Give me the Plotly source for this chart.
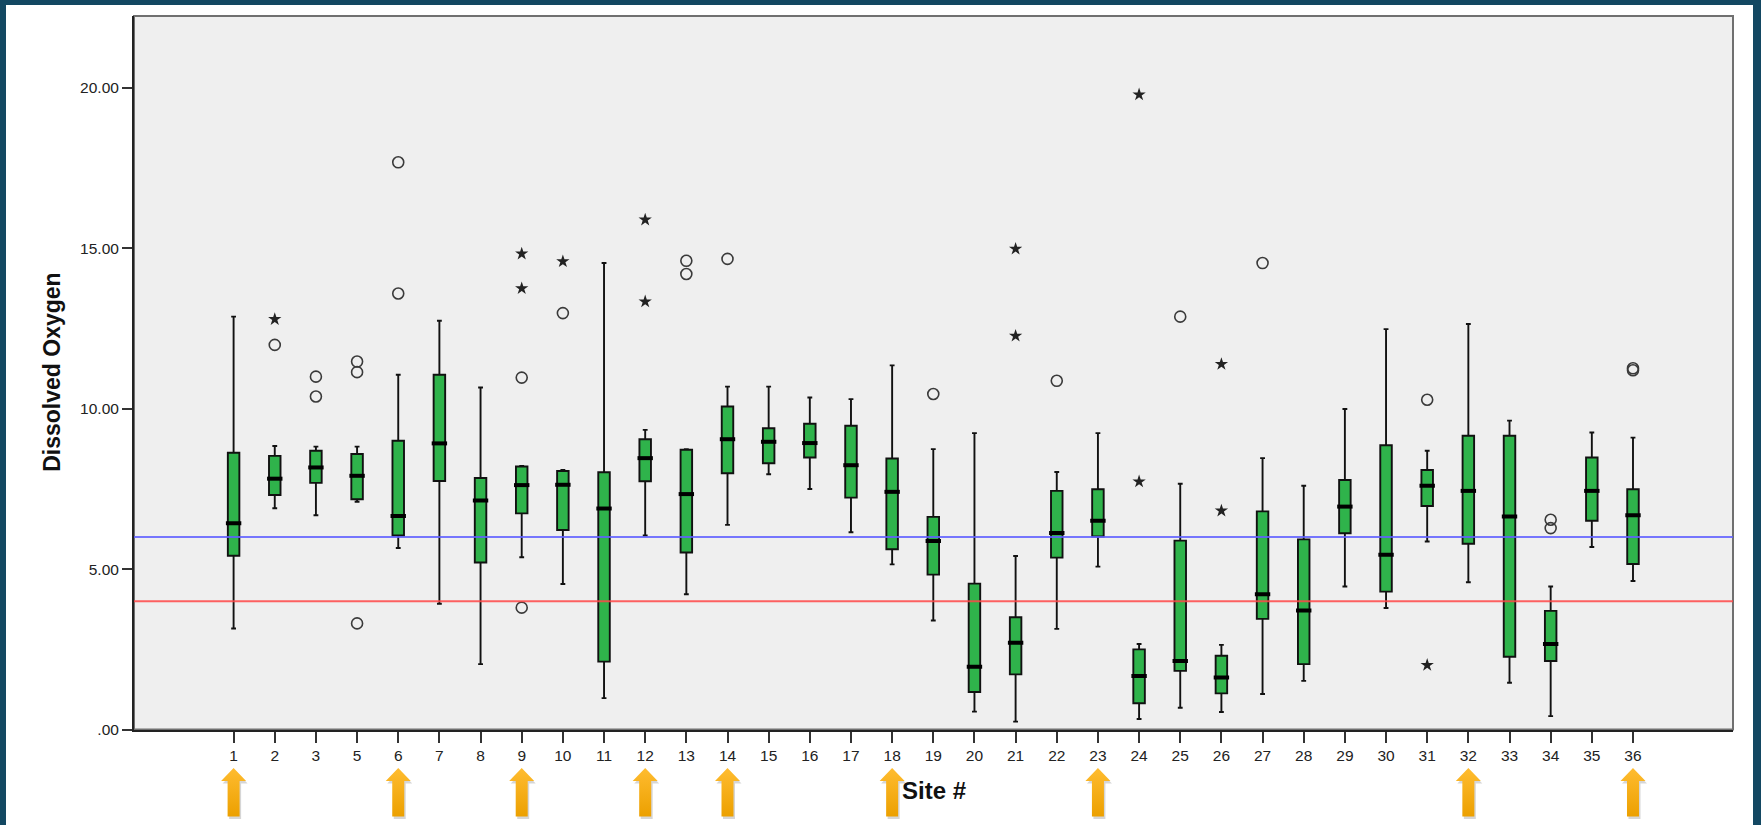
import plotly.graph_objects as go

# ---- data: dissolved oxygen summary per monitoring site ----
sites = [1, 2, 3, 5, 6, 7, 8, 9, 10, 11, 12, 13, 14, 15, 16, 17, 18, 19, 20,
         21, 22, 23, 24, 25, 26, 27, 28, 29, 30, 31, 32, 33, 34, 35, 36]

lower_whisker = [3.15, 6.90, 6.68, 7.10, 5.66, 3.92, 2.04, 5.37, 4.54, 0.98, 6.05, 4.22,
                 6.38, 7.96, 7.50, 6.15, 5.15, 3.40, 0.56, 0.25, 3.14, 5.08, 0.33, 0.68,
                 0.55, 1.11, 1.52, 4.46, 3.79, 5.86, 4.59, 1.46, 0.42, 5.69, 4.63]
q1 = [5.42, 7.31, 7.69, 7.18, 6.05, 7.75, 5.21, 6.74, 6.22, 2.12, 7.74, 5.52,
      7.99, 8.30, 8.48, 7.23, 5.62, 4.83, 1.17, 1.72, 5.36, 6.02, 0.82, 1.83,
      1.13, 3.45, 2.04, 6.12, 4.30, 6.97, 5.79, 2.27, 2.14, 6.51, 5.16]
median = [6.43, 7.82, 8.17, 7.91, 6.66, 8.92, 7.14, 7.62, 7.63, 6.89, 8.46, 7.34,
          9.05, 8.97, 8.93, 8.24, 7.41, 5.88, 1.96, 2.71, 6.13, 6.51, 1.67, 2.14,
          1.62, 4.22, 3.71, 6.95, 5.45, 7.60, 7.44, 6.64, 2.67, 7.44, 6.68]
q3 = [8.63, 8.53, 8.69, 8.59, 9.00, 11.06, 7.84, 8.20, 8.06, 8.02, 9.05, 8.72,
      10.07, 9.39, 9.53, 9.47, 8.45, 6.63, 4.55, 3.50, 7.44, 7.49, 2.50, 5.89,
      2.30, 6.80, 5.93, 7.78, 8.86, 8.09, 9.16, 9.16, 3.70, 8.48, 7.49]
upper_whisker = [12.87, 8.84, 8.82, 8.82, 11.06, 12.74, 10.66, 8.22, 8.09, 14.54, 9.34, 8.74,
                 10.69, 10.69, 10.35, 10.30, 11.35, 8.74, 9.24, 5.41, 8.03, 9.24, 2.67, 7.66,
                 2.64, 8.46, 7.60, 9.99, 12.48, 8.69, 12.64, 9.63, 4.46, 9.26, 9.10]

# outliers (circles) and extreme values (stars)
outlier_sites = [2, 3, 3, 5, 5, 5, 6, 6, 9, 9, 10, 13, 13, 14, 19, 22, 25, 27, 31, 34, 34, 36, 36]
outlier_values = [11.99, 11.00, 10.38, 11.47, 11.14, 3.31, 17.68, 13.59, 10.97, 3.80, 12.98,
                  14.61, 14.20, 14.67, 10.46, 10.87, 12.87, 14.54, 10.28, 6.54, 6.28, 11.26, 11.20]
extreme_sites = [2, 9, 9, 10, 12, 12, 21, 21, 24, 24, 26, 26, 31]
extreme_values = [12.79, 14.83, 13.75, 14.59, 15.89, 13.34, 14.98, 12.27, 19.79, 7.73,
                  11.39, 6.82, 2.01]

# sites highlighted with arrows under the axis
flagged_sites = [1, 6, 9, 12, 14, 18, 23, 32, 36]

# reference levels (mg/L)
reference_levels = [6.0, 4.0]
reference_colors = ["rgba(95,95,255,0.85)", "rgba(255,70,70,0.85)"]

y_ticks = [0, 5, 10, 15, 20]
y_tick_text = [".00", "5.00", "10.00", "15.00", "20.00"]

# ---- page geometry (pixels) ----
W, H = 1761, 825
PLOT_L, PLOT_R, PLOT_T, AXIS_Y = 134, 1733, 16, 729.6
X_MIN, X_MAX = -2.42, 36.43
Y_MAX = 22.24
FONT = "Liberation Sans, Arial, sans-serif"

paper_h = H - PLOT_T
main_bottom = (H - AXIS_Y) / paper_h
px_per_unit = (PLOT_R - PLOT_L) / (X_MAX - X_MIN)

pos = {s: i for i, s in enumerate(sites)}
xs = [pos[s] for s in sites]

fig = go.Figure()

fig.add_trace(go.Box(
    x=xs, q1=q1, median=median, q3=q3,
    lowerfence=lower_whisker, upperfence=upper_whisker,
    width=0.28, whiskerwidth=0.42,
    fillcolor="#2fb34b", line=dict(color="#111111", width=1.9),
    boxpoints=False, hoverinfo="skip", showlegend=False,
))

# heavy median bars
fig.add_trace(go.Scatter(
    x=xs, y=median, mode="markers",
    marker=dict(symbol="line-ew", size=11, line=dict(color="#000000", width=4)),
    hoverinfo="skip", showlegend=False,
))

fig.add_trace(go.Scatter(
    x=[pos[s] for s in outlier_sites], y=outlier_values, mode="markers",
    marker=dict(symbol="circle-open", size=11, color="#3a3a3a", line=dict(width=1.6)),
    hoverinfo="skip", showlegend=False,
))

fig.add_trace(go.Scatter(
    x=[pos[s] for s in extreme_sites], y=extreme_values, mode="markers",
    marker=dict(symbol="star", size=10, color="#222222", line=dict(width=0)),
    hoverinfo="skip", showlegend=False,
))

# ---- arrows beneath the flagged sites (drawn on a strip axis below the plot) ----
def arrow_path(dx_px=0.0, dy_px=0.0):
    head = 12.5 / px_per_unit
    shaft = 6.0 / px_per_unit
    off = dx_px / px_per_unit
    top, neck, bottom = -38.4 - dy_px, -51.4 - dy_px, -87.0 - dy_px
    ax, ay = [], []
    for s in flagged_sites:
        c = pos[s] + off
        ax += [c, c + head, c + shaft, c + shaft, c - shaft, c - shaft, c - head, c, None]
        ay += [top, neck, neck, bottom, bottom, neck, neck, top, None]
    return ax, ay

sx, sy = arrow_path(1.5, 2.5)
fig.add_trace(go.Scatter(
    x=sx, y=sy, yaxis="y2", mode="lines", fill="toself",
    fillcolor="rgba(0,0,0,0.16)", line=dict(width=0),
    hoverinfo="skip", showlegend=False,
))
ax_, ay_ = arrow_path()
fig.add_trace(go.Scatter(
    x=ax_, y=ay_, yaxis="y2", mode="lines", fill="toself",
    fillgradient=dict(type="vertical", colorscale=[[0, "#eca000"], [1, "#ffbc30"]]),
    line=dict(width=0),
    hoverinfo="skip", showlegend=False,
))

shapes = [
    # white panel inside the dark frame
    dict(type="rect", xref="paper", yref="paper", layer="below",
         x0=(6 - PLOT_L) / (PLOT_R - PLOT_L), x1=(1753 - PLOT_L) / (PLOT_R - PLOT_L),
         y0=-0.01, y1=(H - 5) / paper_h,
         fillcolor="#ffffff", line=dict(width=0)),
    # plot area
    dict(type="rect", xref="x domain", yref="y domain", layer="below",
         x0=0, x1=1, y0=0, y1=1, fillcolor="#efefef",
         line=dict(color="#707070", width=2)),
]
for lvl, col in zip(reference_levels, reference_colors):
    shapes.append(dict(type="line", xref="x domain", yref="y", layer="above",
                       x0=0, x1=1, y0=lvl, y1=lvl, line=dict(color=col, width=2)))

fig.update_layout(
    width=W, height=H,
    margin=dict(l=PLOT_L, r=W - PLOT_R, t=PLOT_T, b=0, autoexpand=False),
    paper_bgcolor="#134862",
    plot_bgcolor="rgba(0,0,0,0)",
    font=dict(family=FONT, color="#222222"),
    xaxis=dict(
        range=[X_MIN, X_MAX], anchor="y", automargin=False,
        tickmode="array", tickvals=xs, ticktext=[str(s) for s in sites],
        ticks="outside", ticklen=11, tickwidth=2, tickcolor="#333333",
        showline=True, linecolor="#222222", linewidth=2,
        showgrid=False, zeroline=False,
        tickfont=dict(family=FONT, size=15.5, color="#222222"),
    ),
    yaxis=dict(
        domain=[main_bottom, 1], range=[0, Y_MAX], anchor="x", automargin=False,
        tickmode="array", tickvals=y_ticks, ticktext=y_tick_text,
        ticks="outside", ticklen=10, tickwidth=2, tickcolor="#333333",
        showline=True, linecolor="#222222", linewidth=2,
        showgrid=False, zeroline=False,
        tickfont=dict(family=FONT, size=15.5, color="#222222"),
    ),
    yaxis2=dict(
        domain=[0, main_bottom], range=[-(H - AXIS_Y), 0], anchor="x",
        visible=False, showgrid=False, zeroline=False, automargin=False,
    ),
    shapes=shapes,
    annotations=[
        dict(text="<b>Dissolved Oxygen</b>", textangle=-90,
             xref="paper", yref="y domain",
             x=(52 - PLOT_L) / (PLOT_R - PLOT_L), y=0.5,
             xanchor="center", yanchor="middle", showarrow=False,
             font=dict(family=FONT, size=23, color="#111111")),
        dict(text="<b>Site #</b>",
             xref="paper", yref="paper",
             x=(934 - PLOT_L) / (PLOT_R - PLOT_L), y=(H - 790) / paper_h,
             xanchor="center", yanchor="middle", showarrow=False,
             font=dict(family=FONT, size=24, color="#111111")),
    ],
    showlegend=False,
)

fig.write_html("out.html")
